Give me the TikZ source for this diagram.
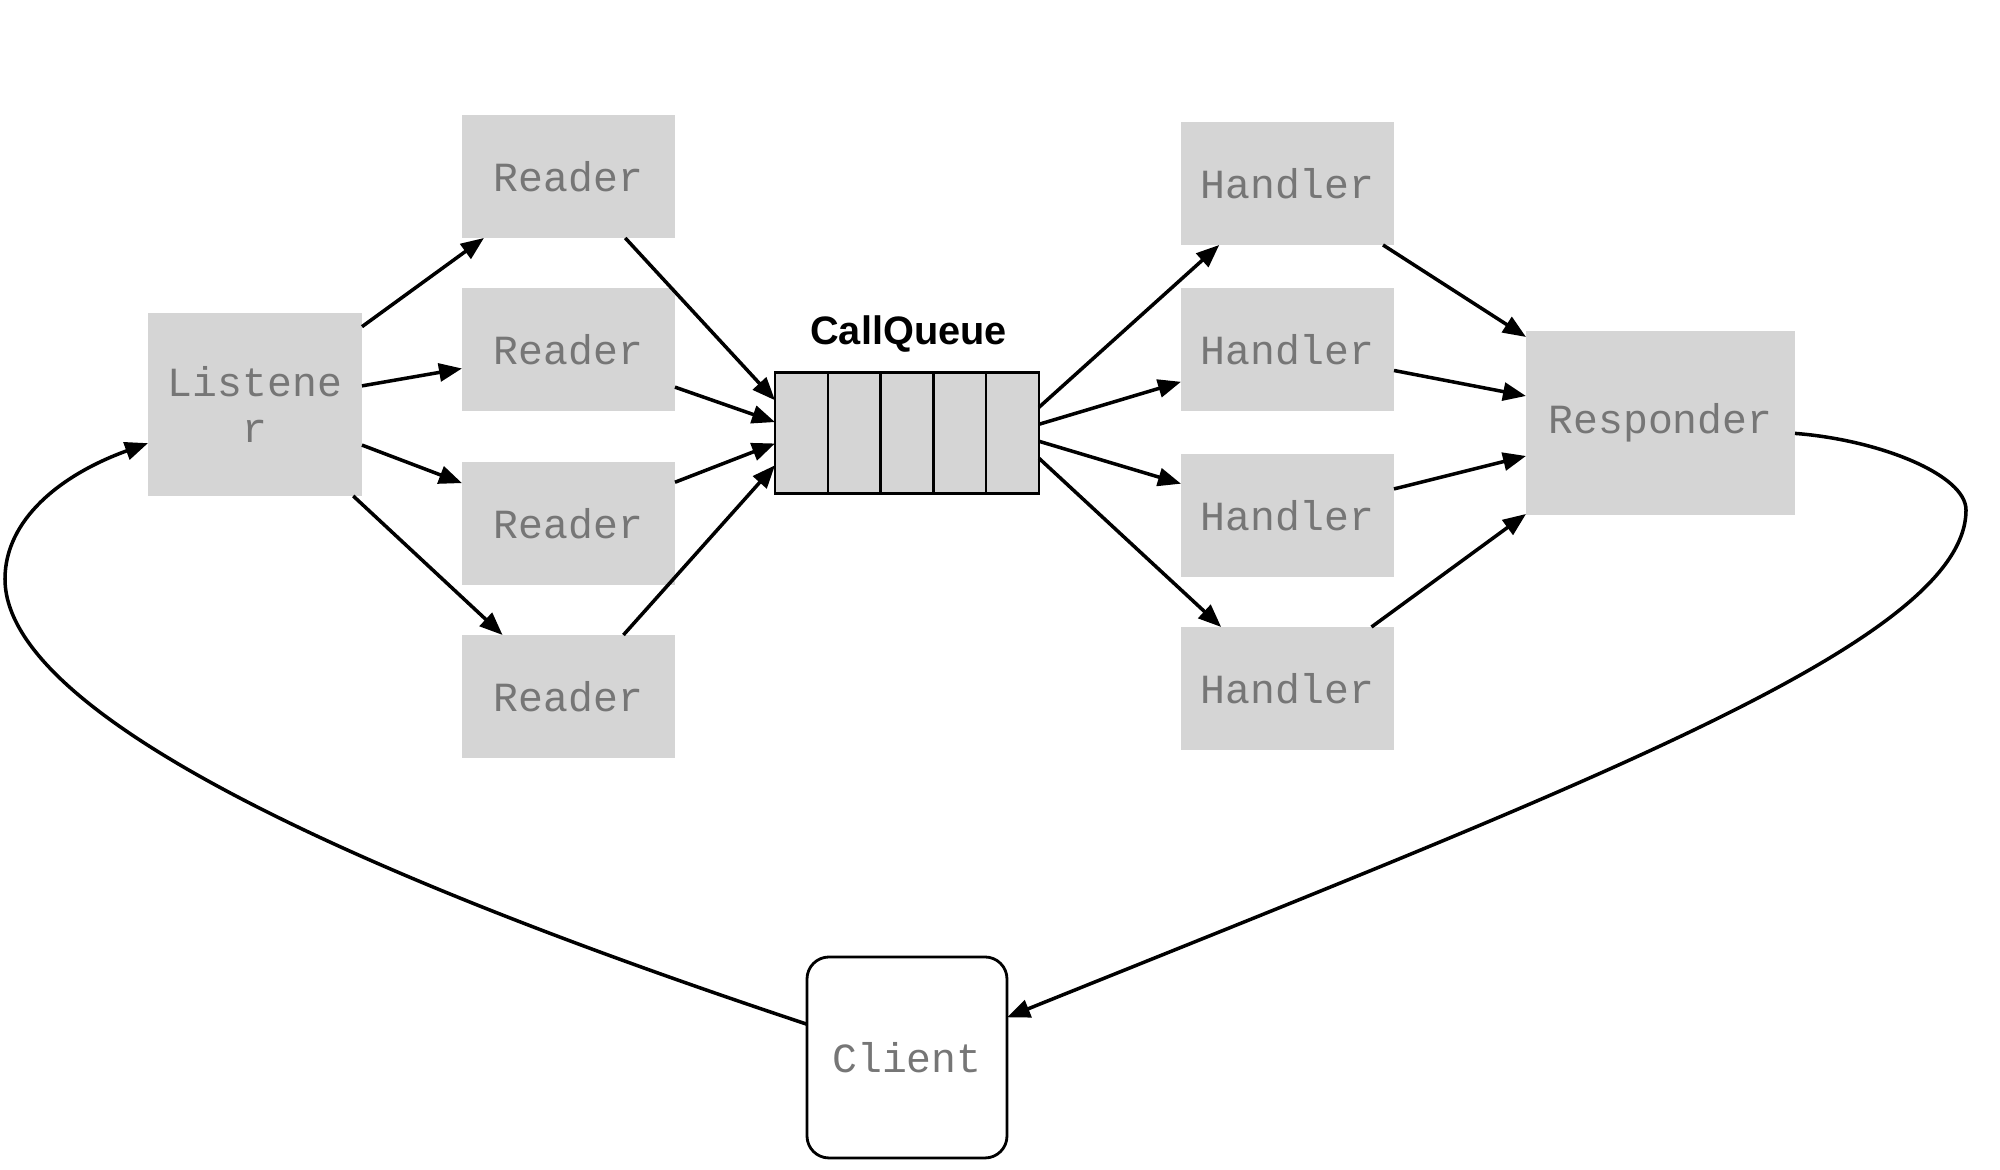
\documentclass[tikz,border=0pt]{standalone}
\usepackage{fontspec}
\setsansfont{Liberation Sans}
\setmonofont{Liberation Mono}
\usetikzlibrary{arrows.meta, positioning, calc}
\definecolor{boxgray}{RGB}{213,213,213}
\definecolor{labelgray}{RGB}{118,118,118}

\begin{document}
\begin{tikzpicture}[
  procbox/.style={fill=boxgray, minimum width=2.13cm, minimum height=1.23cm, inner sep=0pt, outer sep=0pt, text=labelgray, font=\ttfamily\fontsize{11.8}{13.1}\selectfont, align=center},
  flow/.style={-{Triangle[length=0.23cm,width=0.18cm]}, line width=1pt}
]
  \useasboundingbox (0,0) rectangle (20,11.7);

  % listener and readers
  \node[procbox, minimum width=2.14cm, minimum height=1.83cm] (listener) at (2.55,7.655) {Listene\\r};
  \node[procbox] (reader1) at (5.685,9.935) {Reader};
  \node[procbox] (reader2) at (5.685,8.20) {Reader};
  \node[procbox] (reader3) at (5.685,6.465) {Reader};
  \node[procbox] (reader4) at (5.685,4.735) {Reader};

  % call queue
  \node[draw, line width=0.7pt, fill=boxgray, minimum width=2.64cm, minimum height=1.21cm, inner sep=0pt, outer sep=0pt] (queue) at (9.07,7.372) {};
  \foreach \i in {1,...,4}
    \draw[line width=0.7pt] ($(queue.north west)!\i/5!(queue.north east)$) -- ($(queue.south west)!\i/5!(queue.south east)$);
  \node[anchor=base, inner sep=0pt, font=\sffamily\bfseries\fontsize{11.3}{13}\selectfont] (qlabel) at (9.085,8.255) {CallQueue};

  % handlers and responder
  \node[procbox] (handler1) at (12.875,9.865) {Handler};
  \node[procbox] (handler2) at (12.875,8.20) {Handler};
  \node[procbox] (handler3) at (12.875,6.545) {Handler};
  \node[procbox] (handler4) at (12.875,4.815) {Handler};
  \node[procbox, minimum width=2.69cm, minimum height=1.84cm] (responder) at (16.605,7.47) {Responder};

  \node[procbox, draw=black, line width=0.8pt, fill=white, rounded corners=0.22cm, minimum width=2.0cm, minimum height=2.01cm] (client) at (9.07,1.125) {Client};

  % points on the queue and the responder
  \coordinate (qin1) at ($(queue.west)+(0,0.325)$);
  \coordinate (qin2) at ($(queue.west)+(0,0.107)$);
  \coordinate (qin3) at ($(queue.west)+(0,-0.107)$);
  \coordinate (qin4) at ($(queue.west)+(0,-0.325)$);
  \coordinate (qout1) at ($(queue.east)+(0,0.255)$);
  \coordinate (qout2) at ($(queue.east)+(0,0.085)$);
  \coordinate (qout3) at ($(queue.east)+(0,-0.085)$);
  \coordinate (qout4) at ($(queue.east)+(0,-0.255)$);
  \coordinate (rin1) at ($(responder.west)+(0,0.86)$);
  \coordinate (rin2) at ($(responder.west)+(0,0.27)$);
  \coordinate (rin3) at ($(responder.west)+(0,-0.33)$);
  \coordinate (rin4) at ($(responder.west)+(0,-0.91)$);

  \foreach \i in {1,...,4} {
    \draw[flow] (listener) -- (reader\i);
    \draw[flow] (reader\i) -- (qin\i);
    \draw[flow] (qout\i) -- (handler\i);
    \draw[flow] (handler\i) -- (rin\i);
  }

  % back to the client and round to the listener
  \draw[flow] (responder) .. controls (18.80,7.30) and (19.66,6.95) .. (19.66,6.60)
    .. controls (19.66,5.30) and (15.89,3.87) .. (client);
  \draw[flow] (client) .. controls (5.00,2.48) and (0.05,4.30) .. (0.05,5.91)
    .. controls (0.05,6.50) and (0.60,6.95) .. (listener);
\end{tikzpicture}
\end{document}
